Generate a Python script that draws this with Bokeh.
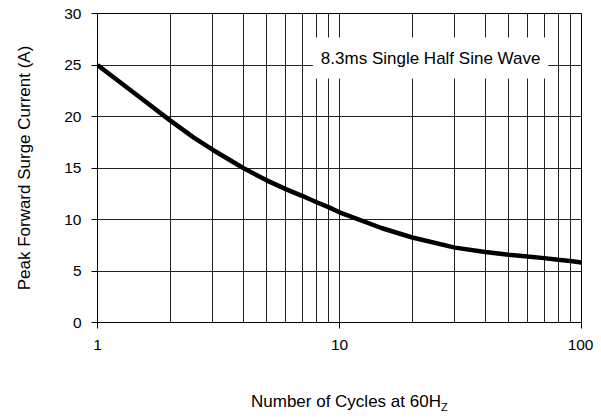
from bokeh.plotting import figure
from bokeh.layouts import column
from bokeh.models import FixedTicker, PrintfTickFormatter, Label, Div
from bokeh.embed import file_html
from bokeh.resources import INLINE

# Data
cycles = [1, 1.5, 2, 2.5, 3, 4, 5, 6, 7, 8, 9, 10, 15, 20, 30, 40, 50, 60, 70, 80, 90, 100]
current = [25.0, 21.85, 19.6, 17.95, 16.75, 15.0, 13.8, 12.95, 12.3, 11.7, 11.2, 10.7,
           9.15, 8.25, 7.27, 6.85, 6.58, 6.4, 6.25, 6.1, 5.97, 5.83]
x_major = [1, 10, 100]
x_minor = [2, 3, 4, 5, 6, 7, 8, 9, 20, 30, 40, 50, 60, 70, 80, 90]
y_ticks = [0, 5, 10, 15, 20, 25, 30]

FONT = "Liberation Sans"

p = figure(width=593, height=360, x_axis_type="log", x_range=(1, 100), y_range=(0, 30),
           output_backend="svg", toolbar_location=None,
           min_border_left=97, min_border_right=12, min_border_top=13, min_border_bottom=38)
p.background_fill_color = "white"
p.border_fill_color = "white"
p.outline_line_color = "black"
p.outline_line_width = 1

# axes
p.xaxis.ticker = FixedTicker(ticks=x_major, minor_ticks=x_minor)
p.xaxis.formatter = PrintfTickFormatter(format="%d")
p.yaxis.ticker = FixedTicker(ticks=y_ticks)
for ax in (p.xaxis, p.yaxis):
    ax.axis_line_color = "black"
    ax.major_tick_line_color = "black"
    ax.major_tick_out = 6
    ax.major_tick_in = 0
    ax.minor_tick_line_color = None
    ax.major_label_text_font = FONT
    ax.major_label_text_font_size = "15.5px"
    ax.major_label_text_color = "black"
    ax.major_label_standoff = 11
p.yaxis.major_label_standoff = 10
p.yaxis.axis_label = "Peak Forward Surge Current (A)"
p.yaxis.axis_label_text_font = FONT
p.yaxis.axis_label_text_font_size = "17px"
p.yaxis.axis_label_text_font_style = "normal"
p.yaxis.axis_label_text_color = "black"
p.yaxis.axis_label_standoff = 27

# grids
p.xgrid.grid_line_color = "#222222"
p.xgrid.grid_line_width = 1
p.xgrid.minor_grid_line_color = "#222222"
p.xgrid.minor_grid_line_width = 1
p.ygrid.grid_line_color = "#222222"
p.ygrid.grid_line_width = 1

# curve
p.line(cycles, current, line_color="black", line_width=4.5)

# annotation box
p.add_layout(Label(x=23.8, y=25.67, text="8.3ms Single Half Sine Wave",
                   text_align="center", text_baseline="middle",
                   text_font=FONT, text_font_size="17px", text_color="black",
                   background_fill_color="white", padding=(8, 11)))

# x axis title with subscript (HTML, below the figure)
title_html = ('<div style="padding-left:246px;padding-top:27px;font-family:\'Liberation Sans\';'
              'font-size:17px;line-height:19px;color:black;white-space:nowrap;">'
              'Number of Cycles at 60H<span style="font-size:11px;position:relative;top:4px;">Z</span>'
              '</div>')
div = Div(text=title_html, width=593, height=55)

layout = column(p, div, spacing=0)
open("out.html", "w").write(file_html(layout, INLINE))
